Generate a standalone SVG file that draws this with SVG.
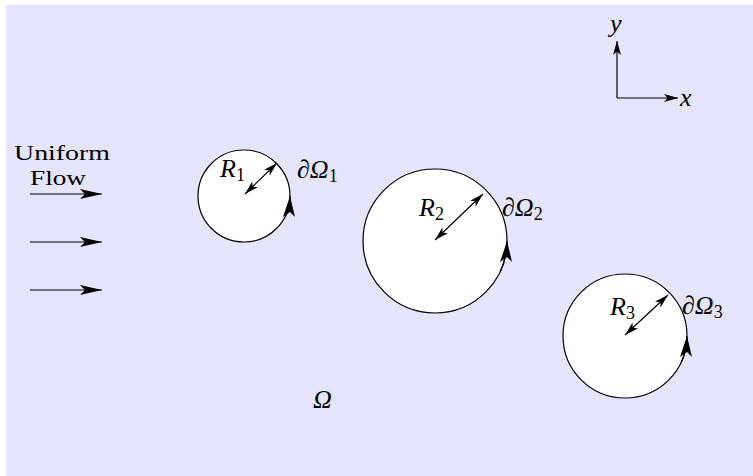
<svg xmlns="http://www.w3.org/2000/svg" width="753" height="476" viewBox="0 0 753 476">
<style>
.bg{fill:#e5e5ff}
.obs{fill:#ffffff;stroke:#000;stroke-width:1.2}
.ln{fill:none;stroke:#000;stroke-width:1.2}
.m{font-family:"Liberation Serif","Times New Roman",serif;font-style:italic;font-size:26px;fill:#000}
.t{font-family:"Liberation Serif","Times New Roman",serif;font-size:21px;fill:#000}
.sub{font-size:18px;font-style:normal}
</style>
<defs>
<marker id="big" viewBox="-24 -7 26 14" markerWidth="26" markerHeight="14" refX="0" refY="0" orient="auto" markerUnits="userSpaceOnUse">
<path d="M0,0 L-22,-5 L-17,0 L-22,5 z" fill="#000"/>
</marker>
<marker id="bnd" viewBox="-24 -8 26 16" markerWidth="26" markerHeight="16" refX="0" refY="0" orient="auto" markerUnits="userSpaceOnUse">
<path d="M0,0 L-21,-7 L-16,0 L-21,5 z" fill="#000"/>
</marker>
<marker id="sm" viewBox="-16 -6 18 12" markerWidth="18" markerHeight="12" refX="0" refY="0" orient="auto-start-reverse" markerUnits="userSpaceOnUse">
<path d="M0,0 L-14,-4 L-10.5,0 L-14,4 z" fill="#000"/>
</marker>
</defs>
<rect class="bg" x="6" y="5" width="747" height="471"/>

<g id="flow">
<text class="t" x="14" y="160" textLength="96" lengthAdjust="spacingAndGlyphs">Uniform</text>
<text class="t" x="30" y="185" textLength="56" lengthAdjust="spacingAndGlyphs">Flow</text>
</g>

<g id="axes">
<path class="ln" d="M617,98 L617,41" marker-end="url(#sm)"/>
<path class="ln" d="M617,98 L678,98" marker-end="url(#sm)"/>
<text class="m" x="610" y="32">y</text>
<text class="m" x="680" y="106">x</text>
</g>

<g id="circle1">
<circle class="obs" cx="244" cy="196" r="46"/>
<text class="m" x="220" y="177">R<tspan class="sub" dy="4">1</tspan></text>
<text class="m" x="297" y="178">∂Ω<tspan class="sub" dy="4">1</tspan></text>
</g>

<g id="circle2">
<circle class="obs" cx="435" cy="241" r="72"/>
<text class="m" x="419" y="216">R<tspan class="sub" dy="4">2</tspan></text>
<text class="m" x="502" y="216">∂Ω<tspan class="sub" dy="4">2</tspan></text>
</g>

<g id="circle3">
<circle class="obs" cx="625" cy="336" r="62"/>
<text class="m" x="610" y="315">R<tspan class="sub" dy="4">3</tspan></text>
<text class="m" x="682" y="314">∂Ω<tspan class="sub" dy="4">3</tspan></text>
</g>

<g id="domain">
<text class="m" x="313" y="408">Ω</text>
</g>

<g id="connectors">
<path class="ln" d="M30,194 L102,194" marker-end="url(#big)"/>
<path class="ln" d="M30,242 L102,242" marker-end="url(#big)"/>
<path class="ln" d="M30,290 L102,290" marker-end="url(#big)"/>
<path class="ln" d="M245,194 L277,163" marker-start="url(#sm)" marker-end="url(#sm)"/>
<path class="ln" d="M435,240 L483,194" marker-start="url(#sm)" marker-end="url(#sm)"/>
<path class="ln" d="M625,335 L668,295" marker-start="url(#sm)" marker-end="url(#sm)"/>
<path class="ln" d="M285.7,215.4 A46,46 0 0 0 290,196" marker-end="url(#bnd)"/>
<path class="ln" d="M500.3,271.4 A72,72 0 0 0 507,241" marker-end="url(#bnd)"/>
<path class="ln" d="M681.2,362.2 A62,62 0 0 0 687,336" marker-end="url(#bnd)"/>
</g>
</svg>
